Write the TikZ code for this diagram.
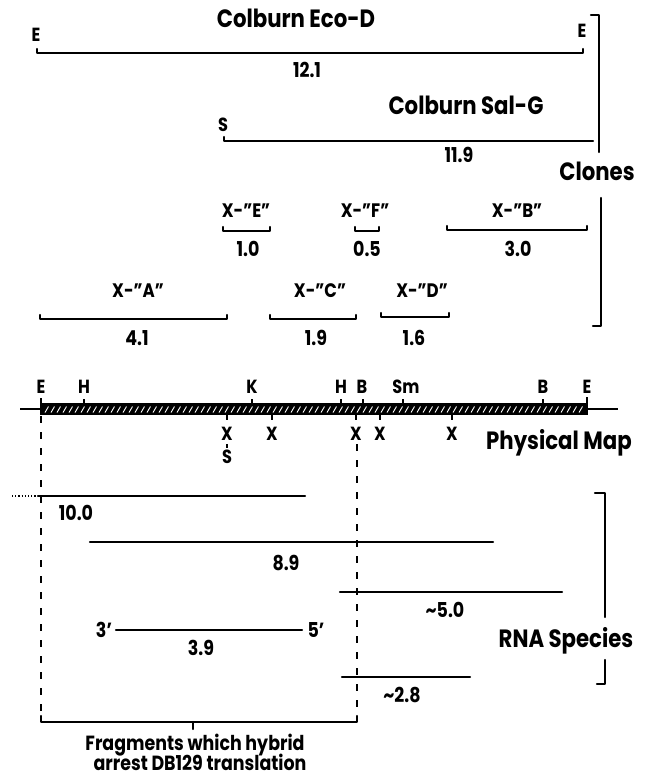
\documentclass[tikz,border=0pt]{standalone}
\usepackage{fontspec}
\setmainfont{Poppins}[FakeStretch=0.85]
\begin{document}
\begin{tikzpicture}[x=1pt,y=-1pt,
  seg/.style={line width=2.3pt, line cap=round, line join=round},
  cut/.style={line width=1.8pt, dash pattern=on 7pt off 9pt},
  tick/.style={line width=1.6pt},
  big/.style={anchor=base, inner sep=0pt, font=\fontsize{25}{25}\selectfont\bfseries},
  mid/.style={anchor=base, inner sep=0pt, font=\fontsize{20.5}{21}\selectfont\bfseries},
  num/.style={anchor=base, inner sep=0pt, font=\fontsize{20.5}{21}\selectfont\bfseries},
  clone/.style={anchor=base, inner sep=0pt, font=\fontsize{19.5}{20}\selectfont\bfseries},
  site/.style={anchor=base, inner sep=0pt, font=\fontsize{19}{19}\selectfont\bfseries}]
\useasboundingbox (0,0) rectangle (652,778);

% ---- overlapping clones ----
\node[big] (ecod) at (296,28) {Colburn Eco-D};
\node[site] (ecoL) at (36,42) {E};
\node[site] (ecoR) at (582,38) {E};
\draw[seg] (37,49) -- (37,53) -- (583,53) -- (583,49);
\node[num] (len121) at (307,78) {12.1};

\node[big] (salg) at (466,115) {Colburn Sal-G};
\node[site] (salS) at (223,132) {S};
\draw[seg] (224,137) -- (224,141) -- (593,141);
\node[num] (len119) at (459,163) {11.9};

% X fragments, first row
\node[clone] (xe) at (246,217) {X-"E"};
\draw[seg] (223,227) -- (223,231) -- (270,231) -- (270,227);
\node[num] (len10) at (248,256) {1.0};

\node[clone] (xf) at (365,217) {X-"F"};
\draw[seg] (355,227) -- (355,231) -- (379,231) -- (379,227);
\node[num] (len05) at (367,256) {0.5};

\node[clone] (xb) at (517,217) {X-"B"};
\draw[seg] (447,226) -- (447,230) -- (587,230) -- (587,226);
\node[num] (len30) at (518,256) {3.0};

% X fragments, second row
\node[clone] (xa) at (138,297) {X-"A"};
\draw[seg] (40,315) -- (40,319) -- (227,319) -- (227,315);
\node[num] (len41) at (137,345) {4.1};

\node[clone] (xc) at (320,297) {X-"C"};
\draw[seg] (270,315) -- (270,319) -- (356,319) -- (356,315);
\node[num] (len19) at (316,345) {1.9};

\node[clone] (xd) at (422,297) {X-"D"};
\draw[seg] (381,313) -- (381,317) -- (449,317) -- (449,313);
\node[num] (len16) at (414,345) {1.6};

% Clones bracket
\draw[seg] (591,15) -- (599,15) -- (599,152);
\node[big] (clones) at (597,180) {Clones};
\draw[seg] (601,198) -- (601,326) -- (593,326);

% ---- physical map ----
\draw[line width=1.8pt] (20,409) -- (618,409);
\fill (41,403) rectangle (587,415);
\foreach \hx in {45,51,...,581}
  \draw[white, line width=0.9pt] (\hx,412.5) -- (\hx+3.5,406.5);
% end caps
\draw[tick] (41,398) -- (41,415);
\draw[tick] (587,397) -- (587,415);
% sites above the bar
\foreach \sx in {84,252,341,363,403,543}
  \draw[tick] (\sx,399) -- (\sx,403);
\node[site] (mE1) at (41,393) {E};
\node[site] (mH1) at (84,393) {H};
\node[site] (mK)  at (252,393) {K};
\node[site] (mH2) at (341,393) {H};
\node[site] (mB1) at (362,393) {B};
\node[site] (mSm) at (406,393) {Sm};
\node[site] (mB2) at (543,393) {B};
\node[site] (mE2) at (587,393) {E};
% sites below the bar
\foreach \sx in {227,272,356,380,452}
  \draw[tick] (\sx,415) -- (\sx,420);
\node[site] (mX1) at (227,440) {X};
\node[site] (mX2) at (272,440) {X};
\node[site] (mX3) at (356,440) {X};
\node[site] (mX4) at (380,440) {X};
\node[site] (mX5) at (452,440) {X};
\draw[tick] (227,444) -- (227,448);
\node[site] (mS) at (227,463) {S};
\node[big] (pmap) at (559,449) {Physical Map};

% ---- hybrid-arrest region ----
\draw[cut] (41,416) -- (41,716);
\draw[cut] (357,444) -- (357,716);
\draw[seg] (41,716) -- (41,722) -- (357,722) -- (357,716);
\draw[seg] (193,722) -- (193,729);
\node[mid] (frag1) at (195,750) {Fragments which hybrid};
\node[mid] (frag2) at (200,770) {arrest DB129 translation};

% ---- RNA species ----
\draw[line width=1.2pt, dotted] (12,496) -- (38,496);
\draw[seg] (38,496) -- (305,496);
\node[num] (r100) at (76,520) {10.0};

\draw[seg] (90,542) -- (493,542);
\node[num] (r89) at (286,570) {8.9};

\draw[seg] (340,592) -- (562,592);
\node[num] (r50) at (445,617) {\textasciitilde5.0};

\node[num] (r3p) at (104,637) {3'};
\draw[seg] (116,630) -- (302,630);
\node[num] (r5p) at (316,637) {5'};
\node[num] (r39) at (201,655) {3.9};

\draw[seg] (342,677) -- (470,677);
\node[num] (r28) at (402,702) {\textasciitilde2.8};

% RNA species bracket
\draw[seg] (595,493) -- (605,493) -- (605,617);
\node[big] (rna) at (566,647) {RNA Species};
\draw[seg] (605,660) -- (605,684) -- (597,684);
\end{tikzpicture}
\end{document}
